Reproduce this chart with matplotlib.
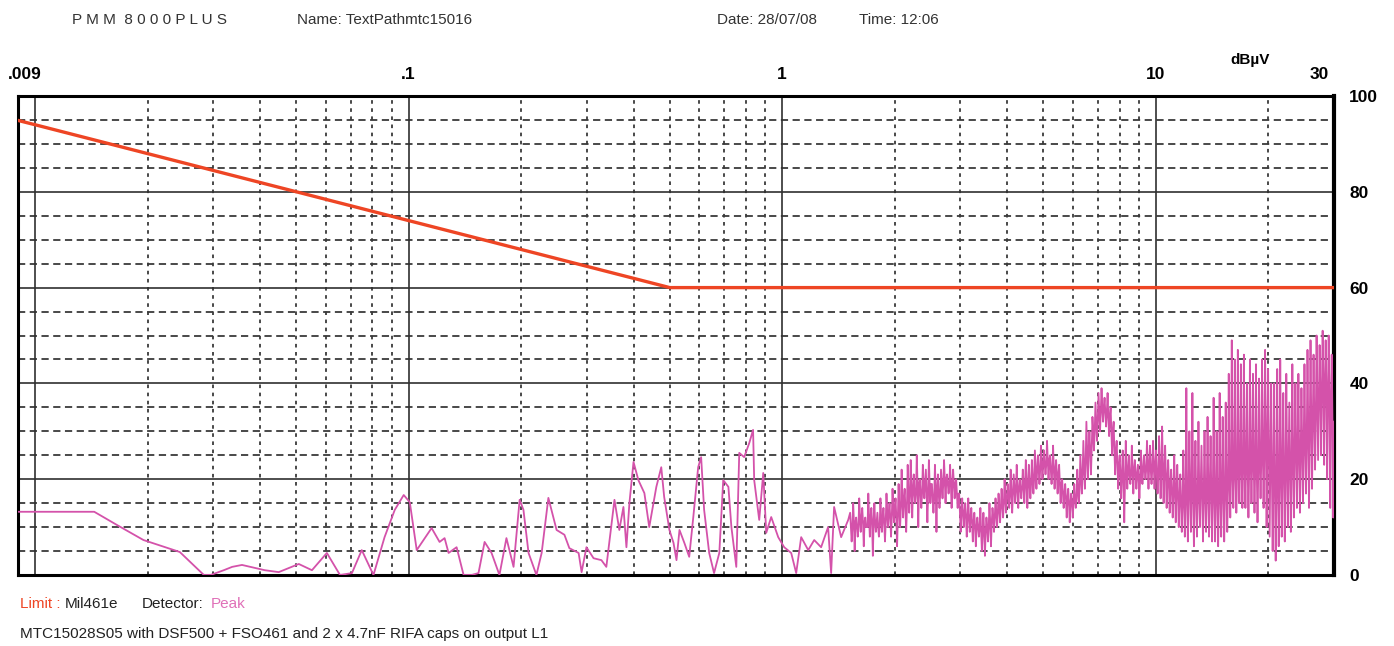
import numpy as np
import matplotlib
matplotlib.use("Agg")
import matplotlib.pyplot as plt
from matplotlib.transforms import ScaledTranslation

plt.rcParams['font.family'] = ['Liberation Sans', 'DejaVu Sans']

# limit line Mil461e (MHz, dBuV)
limit_freq = [0.009, 0.01, 0.5, 30]
limit_db = [94.9, 94, 60, 60]

# peak trace, sparse part below 1.5 MHz
peak_freq = [0.009, 0.0144, 0.0166, 0.0195, 0.0235, 0.0244, 0.0283, 0.0295, 0.0320,
             0.0337, 0.0358, 0.0412, 0.0449, 0.0508, 0.0551, 0.0604, 0.0655, 0.0705,
             0.0749, 0.0805, 0.0862, 0.0918, 0.0970, 0.1007, 0.1051, 0.1152, 0.1210,
             0.1248, 0.1279, 0.1344, 0.1403, 0.1474, 0.1538, 0.1597, 0.1667, 0.1750,
             0.1827, 0.1909, 0.1982, 0.2029, 0.2094, 0.2198, 0.2270, 0.2366, 0.2489,
             0.2612, 0.2693, 0.2851, 0.2904, 0.2992, 0.3126, 0.3281, 0.3382, 0.3556,
             0.3664, 0.3758, 0.3828, 0.3899, 0.3999, 0.4121, 0.4276, 0.4406, 0.4603,
             0.4745, 0.4831, 0.4989, 0.5117, 0.5212, 0.5309, 0.5471, 0.5637, 0.5781,
             0.5957, 0.6067, 0.6180, 0.6376, 0.6570, 0.6786, 0.6952, 0.7177, 0.7311,
             0.7535, 0.7674, 0.7910, 0.8166, 0.8356, 0.8414, 0.8679, 0.8897, 0.9062,
             0.9345, 0.9757, 1.0123, 1.057, 1.090, 1.124, 1.174, 1.218, 1.271,
             1.327, 1.352, 1.377, 1.438, 1.502]
peak_db = [13.2, 13.2, 10.4, 7.3, 5.2, 4.8, 0, 0, 1.0,
           1.7, 2.1, 1.0, 0.6, 2.3, 1.0, 4.6, 0, 0.4,
           5.2, 0, 7.9, 13.6, 16.7, 15.2, 5.2, 9.8, 6.9,
           7.7, 4.6, 5.8, 0, 0, 0.4, 6.9, 4.6, 0,
           7.7, 1.7, 15.7, 13.6, 4.6, 0, 4.6, 16.1, 9.4,
           8.4, 5.6, 4.6, 0.6, 5.8, 3.5, 3.1, 1.7, 15.7,
           9.4, 14.2, 5.8, 15.0, 23.6, 19.8, 17.1, 10.0, 18.4,
           22.5, 16.3, 9.4, 6.7, 3.1, 9.4, 6.7, 3.8, 12.1,
           22.5, 24.6, 13.6, 4.6, 0.4, 4.6, 19.8, 18.4, 10.0,
           1.7, 25.5, 24.6, 27.6, 30.3, 19.8, 11.5, 21.3, 8.8,
           12.1, 7.9, 5.8, 4.6, 0.4, 7.9, 5.2, 7.3, 5.8,
           10.0, 0.4, 14.2, 7.9, 11.5]

# dense sweep 1.52 - 30 MHz: spike top, band centre, spike bottom per step
dense_hi = [13, 15, 12, 16, 14, 12, 17, 14, 15, 13,
            16, 14, 17, 15, 18, 16, 19, 22, 18, 23,
            24, 21, 25, 20, 23, 22, 24, 19, 23, 21,
            22, 24, 21, 23, 22, 20, 17, 16, 15, 16,
            14, 13, 12, 14, 13, 12, 15, 14, 16, 17,
            18, 20, 19, 22, 21, 23, 20, 22, 24, 23,
            24, 26, 25, 27, 26, 28, 25, 27, 24, 23,
            20, 19, 18, 17, 19, 22, 25, 28, 32, 30,
            33, 36, 38, 39, 37, 38, 35, 32, 28, 25,
            26, 28, 25, 27, 24, 23, 26, 25, 28, 27,
            28, 26, 29, 31, 27, 24, 22, 25, 23, 21,
            26, 39, 30, 38, 28, 32, 27, 30, 33, 29,
            37, 30, 38, 33, 36, 42, 49, 45, 47, 44,
            46, 40, 45, 42, 44, 41, 45, 47, 43, 40,
            40, 43, 45, 38, 42, 36, 44, 40, 42, 39,
            44, 47, 49, 46, 50, 48, 51, 49, 50, 46]
dense_mid = [10, 11, 10, 12, 11, 10, 12, 11, 11, 10,
             12, 11, 13, 12, 14, 12, 14, 16, 14, 17,
             18, 17, 19, 17, 19, 17, 19, 16, 18, 17,
             19, 20, 19, 19, 19, 17, 13, 13, 12, 12,
             11, 10, 10, 9, 9, 10, 11, 12, 13, 14,
             15, 16, 17, 17, 18, 18, 18, 19, 19, 19,
             20, 22, 22, 23, 23, 24, 22, 22, 21, 19,
             17, 16, 15, 15, 16, 18, 21, 23, 26, 26,
             30, 32, 34, 35, 34, 33, 30, 26, 23, 21,
             20, 22, 21, 22, 21, 20, 22, 22, 23, 22,
             23, 21, 22, 22, 20, 19, 17, 18, 16, 15,
             16, 17, 18, 17, 16, 18, 17, 17, 18, 17,
             17, 16, 18, 17, 18, 21, 22, 21, 23, 22,
             24, 22, 24, 23, 22, 24, 26, 28, 25, 21,
             18, 20, 22, 21, 24, 22, 25, 26, 25, 27,
             28, 30, 32, 33, 36, 38, 40, 38, 36, 32]
dense_lo = [7, 5, 8, 9, 6, 10, 8, 4, 9, 8,
            9, 7, 10, 8, 11, 6, 10, 12, 9, 13,
            12, 15, 10, 14, 16, 11, 15, 13, 9, 14,
            16, 15, 17, 14, 16, 14, 9, 10, 8, 9,
            7, 6, 8, 5, 4, 7, 6, 9, 10, 11,
            12, 13, 14, 13, 15, 14, 16, 15, 14, 16,
            17, 18, 19, 20, 21, 20, 19, 18, 17, 15,
            14, 12, 11, 12, 14, 15, 17, 18, 20, 21,
            26, 28, 30, 32, 31, 29, 25, 21, 18, 16,
            11, 18, 19, 17, 18, 16, 19, 20, 18, 19,
            18, 17, 16, 15, 14, 13, 12, 11, 10, 9,
            8, 7, 9, 6, 8, 10, 7, 9, 8, 7,
            7, 6, 8, 7, 9, 12, 14, 13, 15, 14,
            14, 12, 15, 13, 11, 16, 14, 10, 8, 5,
            3, 6, 8, 7, 10, 9, 12, 14, 13, 15,
            17, 14, 18, 22, 24, 25, 23, 20, 14, 12]

top_ticks = [0.009, 0.1, 1, 10, 30]
top_labels = ['.009', '.1', '1', '10', '30']
right_ticks = [0, 20, 40, 60, 80, 100]

major_x = [0.01, 0.1, 1, 10]
minor_x = [m * 10.0 ** e for e in (-2, -1, 0) for m in range(2, 10)] + [20]
major_y = [20, 40, 60, 80]
minor_y = [v for v in range(5, 100, 5) if v % 20]

# sweep order per step: top, centre, bottom, centre
dense_db = np.column_stack([dense_hi, dense_mid, dense_lo, dense_mid]).ravel()
dense_freq = np.geomspace(1.52, 30, len(dense_db))
trace_f = np.concatenate([peak_freq, dense_freq])
trace_db = np.concatenate([peak_db, dense_db])

W, H = 1394, 646
fig = plt.figure(figsize=(W / 100, H / 100), dpi=100)
fig.patch.set_facecolor('white')
ax = fig.add_axes([18 / W, 1 - 575 / H, (1334 - 18) / W, (575 - 96) / H])
ax.set_xscale('log')
ax.set_xlim(0.009, 30)
ax.set_ylim(0, 100)

grid_c = '#3a3a3a'
for x in minor_x:
    ax.axvline(x, color=grid_c, lw=1.3, ls=(0, (2, 2.5)), zorder=1)
for y in minor_y:
    ax.axhline(y, color=grid_c, lw=1.3, ls=(0, (4, 2.5)), zorder=1)
for x in major_x:
    ax.axvline(x, color='#303030', lw=1.2, zorder=1)
for y in major_y:
    ax.axhline(y, color='#303030', lw=1.2, zorder=1)

ax.plot(trace_f, trace_db, color='#d452aa', lw=1.3, zorder=3)
ax.plot(limit_freq, limit_db, color='#ee4524', lw=2.4, zorder=4)

for side in ['left', 'bottom', 'top', 'right']:
    ax.spines[side].set_linewidth(2.2)
    ax.spines[side].set_color('black')
ax.spines['right'].set_linewidth(3)

ax.xaxis.tick_top()
ax.set_xticks(top_ticks)
ax.set_xticklabels(top_labels)
ax.xaxis.set_minor_locator(matplotlib.ticker.NullLocator())
ax.tick_params(axis='x', length=0, pad=10, labelsize=12.5)
for lab in ax.get_xticklabels():
    lab.set_fontweight('bold')
labs = ax.get_xticklabels()
labs[0].set_transform(labs[0].get_transform() + ScaledTranslation(0.07, 0, fig.dpi_scale_trans))
labs[-1].set_transform(labs[-1].get_transform() + ScaledTranslation(-0.15, 0, fig.dpi_scale_trans))

ax.yaxis.tick_right()
ax.set_yticks(right_ticks)
ax.set_yticklabels([str(v) for v in right_ticks])
ax.tick_params(axis='y', length=0, pad=11, labelsize=12.5)
for lab in ax.get_yticklabels():
    lab.set_fontweight('bold')

fig.text(1250 / W, 1 - 60 / H, 'dBµV', ha='center', va='center', fontsize=11, fontweight='bold')

head_c = '#333333'
fig.text(72 / W, 1 - 20 / H, 'P M M  8 0 0 0 P L U S', ha='left', va='center', fontsize=11, color=head_c)
fig.text(297 / W, 1 - 20 / H, 'Name: TextPathmtc15016', ha='left', va='center', fontsize=11, color=head_c)
fig.text(717 / W, 1 - 20 / H, 'Date: 28/07/08', ha='left', va='center', fontsize=11, color=head_c)
fig.text(859 / W, 1 - 20 / H, 'Time: 12:06', ha='left', va='center', fontsize=11, color=head_c)

fig.text(20 / W, 1 - 604 / H, 'Limit :', ha='left', va='center', fontsize=11, color='#ee4524')
fig.text(65 / W, 1 - 604 / H, 'Mil461e', ha='left', va='center', fontsize=11, color='#222222')
fig.text(142 / W, 1 - 604 / H, 'Detector:', ha='left', va='center', fontsize=11, color='#222222')
fig.text(211 / W, 1 - 604 / H, 'Peak', ha='left', va='center', fontsize=11, color='#e070b8')
fig.text(20 / W, 1 - 634 / H, 'MTC15028S05 with DSF500 + FSO461 and 2 x 4.7nF RIFA caps on output L1',
         ha='left', va='center', fontsize=11, color='#222222')

fig.savefig('out.png', dpi=100, facecolor='white')
